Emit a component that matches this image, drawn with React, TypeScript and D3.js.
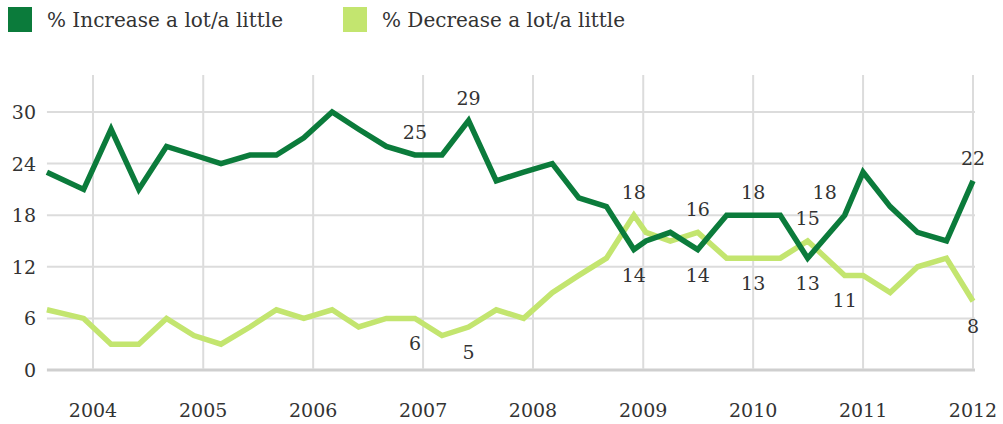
import React from "react";
import * as d3 from "d3";

const dates: string[] = [
  "2003-08-01", "2003-12-01", "2004-03-01", "2004-06-01", "2004-09-01", "2004-12-01",
  "2005-03-01", "2005-06-05", "2005-09-01", "2005-12-01", "2006-03-05", "2006-06-01",
  "2006-09-01", "2006-12-05", "2007-03-05", "2007-06-01", "2007-09-01", "2007-12-01",
  "2008-03-05", "2008-06-01", "2008-09-01", "2008-12-01", "2009-01-10", "2009-04-01",
  "2009-07-01", "2009-10-05", "2010-01-01", "2010-04-01", "2010-07-01", "2010-11-01",
  "2011-01-01", "2011-04-01", "2011-07-01", "2011-10-05", "2012-01-01",
];
const increase: number[] = [
  23, 21, 28, 21, 26, 25, 24, 25, 25, 27, 30, 28, 26, 25, 25, 29, 22, 23,
  24, 20, 19, 14, 15, 16, 14, 18, 18, 18, 13, 18, 23, 19, 16, 15, 22,
];
const decrease: number[] = [
  7, 6, 3, 3, 6, 4, 3, 5, 7, 6, 7, 5, 6, 6, 4, 5, 7, 6,
  9, 11, 13, 18, 16, 15, 16, 13, 13, 13, 15, 11, 11, 9, 12, 13, 8,
];
const yTicks: number[] = [0, 6, 12, 18, 24, 30];
const yearTicks: number[] = [2004, 2005, 2006, 2007, 2008, 2009, 2010, 2011, 2012];
const seriesNames: string[] = ["% Increase a lot/a little", "% Decrease a lot/a little"];
// labelled points: [series index, point index, position]
const labels: [number, number, string][] = [
  [0, 13, "above"], [0, 15, "above"], [1, 13, "below"], [1, 15, "below"],
  [1, 21, "above"], [0, 21, "below"], [1, 24, "above"], [0, 24, "below"],
  [0, 26, "above"], [1, 26, "below"], [1, 28, "above"], [0, 28, "below"],
  [0, 29, "aboveLeft"], [1, 29, "below"], [0, 34, "above"], [1, 34, "below"],
];

const W = 1003;
const H = 424;
const DARK = "#0b7b3b";
const LIGHT = "#c3e56f";
const GRID = "#dcdcdc";
const TEXT = "#333333";
const FONT = "'DejaVu Serif', serif";
const FS = 19;

export default function App() {
  const parse = d3.timeParse("%Y-%m-%d");
  const pts = dates.map((d) => parse(d) as Date);
  const x = d3
    .scaleTime()
    .domain([new Date(2004, 0, 1), new Date(2012, 0, 1)])
    .range([93, 973]);
  const y = d3.scaleLinear().domain([0, 30]).range([370, 112]);
  const plotLeft = x(pts[0]);
  const plotRight = 975;
  const line = d3
    .line<number>()
    .x((_, i) => x(pts[i]))
    .y((v) => y(v))
    .curve(d3.curveLinear);
  const series = [increase, decrease];
  const colors = [DARK, LIGHT];

  return (
    <svg
      width={W}
      height={H}
      style={{ position: "absolute", left: 0, top: 0, display: "block" }}
      fontFamily={FONT}
    >
      <rect width={W} height={H} fill="#ffffff" />
      {/* legend */}
      {seriesNames.map((name, i) => {
        const lx = i === 0 ? 8 : 343;
        return (
          <g key={name}>
            <rect x={lx} y={7} width={24} height={25} fill={colors[i]} />
            <text x={lx + 39} y={27} fontSize={20} fill={TEXT}>
              {name}
            </text>
          </g>
        );
      })}
      {/* horizontal grid */}
      {yTicks.map((t) => (
        <g key={"y" + t}>
          <line
            x1={plotLeft}
            x2={plotRight}
            y1={y(t)}
            y2={y(t)}
            stroke={t === 0 ? "#cfcfcf" : GRID}
            strokeWidth={t === 0 ? 3 : 2}
          />
          <text
            x={36}
            y={y(t)}
            textAnchor="end"
            dominantBaseline="central"
            fontSize={FS}
            fill={TEXT}
          >
            {t}
          </text>
        </g>
      ))}
      {/* vertical grid */}
      {yearTicks.map((yr) => {
        const xx = x(new Date(yr, 0, 1));
        return (
          <g key={"x" + yr}>
            <line x1={xx} x2={xx} y1={75} y2={369} stroke={GRID} strokeWidth={2} />
            <text x={xx} y={417} textAnchor="middle" fontSize={FS} fill={TEXT}>
              {yr}
            </text>
          </g>
        );
      })}
      {/* lines */}
      {[1, 0].map((s) => (
        <path
          key={"s" + s}
          d={line(series[s]) || ""}
          fill="none"
          stroke={colors[s]}
          strokeWidth={5.5}
          strokeLinejoin="miter"
          strokeLinecap="butt"
        />
      ))}
      {/* data labels */}
      {labels.map(([s, i, pos]) => {
        const px = x(pts[i]);
        const py = y(series[s][i]);
        let lx = px;
        let ly = py - 23;
        if (pos === "below") ly = py + 25;
        if (pos === "aboveLeft") {
          lx = px - 20;
        }
        return (
          <text
            key={"l" + s + "-" + i}
            x={lx}
            y={ly}
            textAnchor="middle"
            dominantBaseline="central"
            fontSize={FS}
            fill={TEXT}
          >
            {series[s][i]}
          </text>
        );
      })}
    </svg>
  );
}
